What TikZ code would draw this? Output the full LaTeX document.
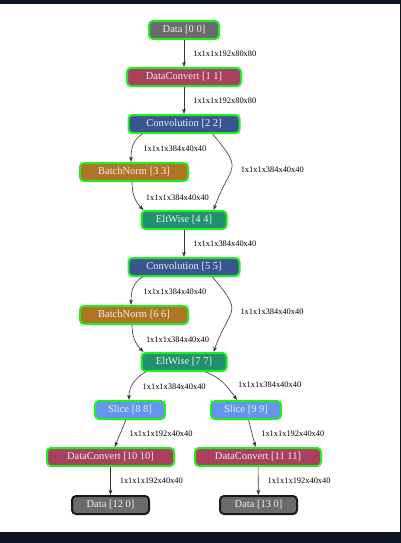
\documentclass[tikz,border=0pt]{standalone}
\usepackage{fontspec}
\setmainfont{Liberation Serif}
\usetikzlibrary{arrows.meta,positioning}
\definecolor{frame}{HTML}{0B141D}
\definecolor{limeedge}{HTML}{1EF01E}
\definecolor{datafill}{HTML}{6B6B6B}
\definecolor{convertfill}{HTML}{A8405E}
\definecolor{convfill}{HTML}{3B5590}
\definecolor{bnfill}{HTML}{B07424}
\definecolor{eltfill}{HTML}{21906E}
\definecolor{slicefill}{HTML}{6495ED}

\begin{document}
\begin{tikzpicture}[x=1pt,y=-1pt,
    op/.style={rounded corners=4pt,draw=limeedge,line width=2pt,
        text=white!94!black,minimum height=18pt,inner sep=1pt,
        font=\fontsize{10.5}{12}\selectfont},
    lbl/.style={font=\fontsize{8.4}{10}\selectfont,inner sep=1pt,right=8pt},
    edge/.style={->,>={Stealth[length=5pt,width=3.6pt,inset=1pt]},
        line width=0.6pt,draw=black!80}]
    % the frame
    \fill[white] (0,0) rectangle (401,543);
    \fill[frame] (0,0) rectangle (401,4.5);
    \fill[frame] (0,532) rectangle (401,543);
    \fill[frame] (400,0) rectangle (401,543);

    % the layers
    \node[op,fill=datafill,minimum width=70pt] (data0) at (184,30) {Data [0 0]};
    \node[op,fill=convertfill,minimum width=114pt] (dc1) at (184,77) {DataConvert [1 1]};
    \node[op,fill=convfill,minimum width=111pt] (conv2) at (184,124) {Convolution [2 2]};
    \node[op,fill=bnfill,minimum width=108pt] (bn3) at (134,172) {BatchNorm [3 3]};
    \node[op,fill=eltfill,minimum width=85pt] (elt4) at (184,220) {EltWise [4 4]};
    \node[op,fill=convfill,minimum width=111pt] (conv5) at (184,267) {Convolution [5 5]};
    \node[op,fill=bnfill,minimum width=108pt] (bn6) at (134,315) {BatchNorm [6 6]};
    \node[op,fill=eltfill,minimum width=85pt] (elt7) at (184,362) {EltWise [7 7]};
    \node[op,fill=slicefill,minimum width=70pt] (slice8) at (130,410) {Slice [8 8]};
    \node[op,fill=slicefill,minimum width=70pt] (slice9) at (246,410) {Slice [9 9]};
    \node[op,fill=convertfill,minimum width=127pt] (dc10) at (110.5,457) {DataConvert [10 10]};
    \node[op,fill=convertfill,minimum width=126pt] (dc11) at (258,457) {DataConvert [11 11]};
    \node[op,fill=datafill,draw=black!90,minimum width=77pt] (data12) at (110.5,505) {Data [12 0]};
    \node[op,fill=datafill,draw=black!90,minimum width=77pt] (data13) at (258.5,505) {Data [13 0]};

    % the blobs
    \draw[edge] (data0) -- node[lbl]{1x1x1x192x80x80} (dc1);
    \draw[edge] (dc1) -- node[lbl]{1x1x1x192x80x80} (conv2);

    \draw[edge] ([xshift=15pt]conv2.south west) to[out=-150,in=90]
        node[lbl,right=10pt,pos=0.6]{1x1x1x384x40x40} ([xshift=-3pt]bn3.north);
    \draw[edge] ([xshift=-28pt]conv2.south east) to[out=-50,in=70,looseness=1.7]
        node[lbl,pos=0.52]{1x1x1x384x40x40} ([xshift=-14pt]elt4.north east);
    \draw[edge] ([xshift=-2pt]bn3.south) to[out=-90,in=135]
        node[lbl,right=10pt,pos=0.5]{1x1x1x384x40x40} ([xshift=3pt]elt4.north west);
    \draw[edge] (elt4) -- node[lbl]{1x1x1x384x40x40} (conv5);

    \draw[edge] ([xshift=15pt]conv5.south west) to[out=-150,in=90]
        node[lbl,right=10pt,pos=0.6]{1x1x1x384x40x40} ([xshift=-3pt]bn6.north);
    \draw[edge] ([xshift=-28pt]conv5.south east) to[out=-50,in=70,looseness=1.7]
        node[lbl,pos=0.52]{1x1x1x384x40x40} ([xshift=-14pt]elt7.north east);
    \draw[edge] ([xshift=-2pt]bn6.south) to[out=-90,in=135]
        node[lbl,right=10pt,pos=0.5]{1x1x1x384x40x40} ([xshift=3pt]elt7.north west);

    \draw[edge] ([xshift=5pt]elt7.south west) to[out=-150,in=90]
        node[lbl,right=10pt,pos=0.62]{1x1x1x384x40x40} ([xshift=-1pt]slice8.north);
    \draw[edge] ([xshift=-22pt]elt7.south east) to[out=-20,in=125]
        node[lbl,right=12pt,pos=0.55]{1x1x1x384x40x40} ([xshift=-9pt]slice9.north);

    \draw[edge] (slice8) -- node[lbl]{1x1x1x192x40x40} (dc10);
    \draw[edge] (slice9) -- node[lbl]{1x1x1x192x40x40} (dc11);
    \draw[edge] (dc10) -- node[lbl]{1x1x1x192x40x40} (data12);
    \draw[edge] (dc11) -- node[lbl]{1x1x1x192x40x40} (data13);
\end{tikzpicture}
\end{document}
